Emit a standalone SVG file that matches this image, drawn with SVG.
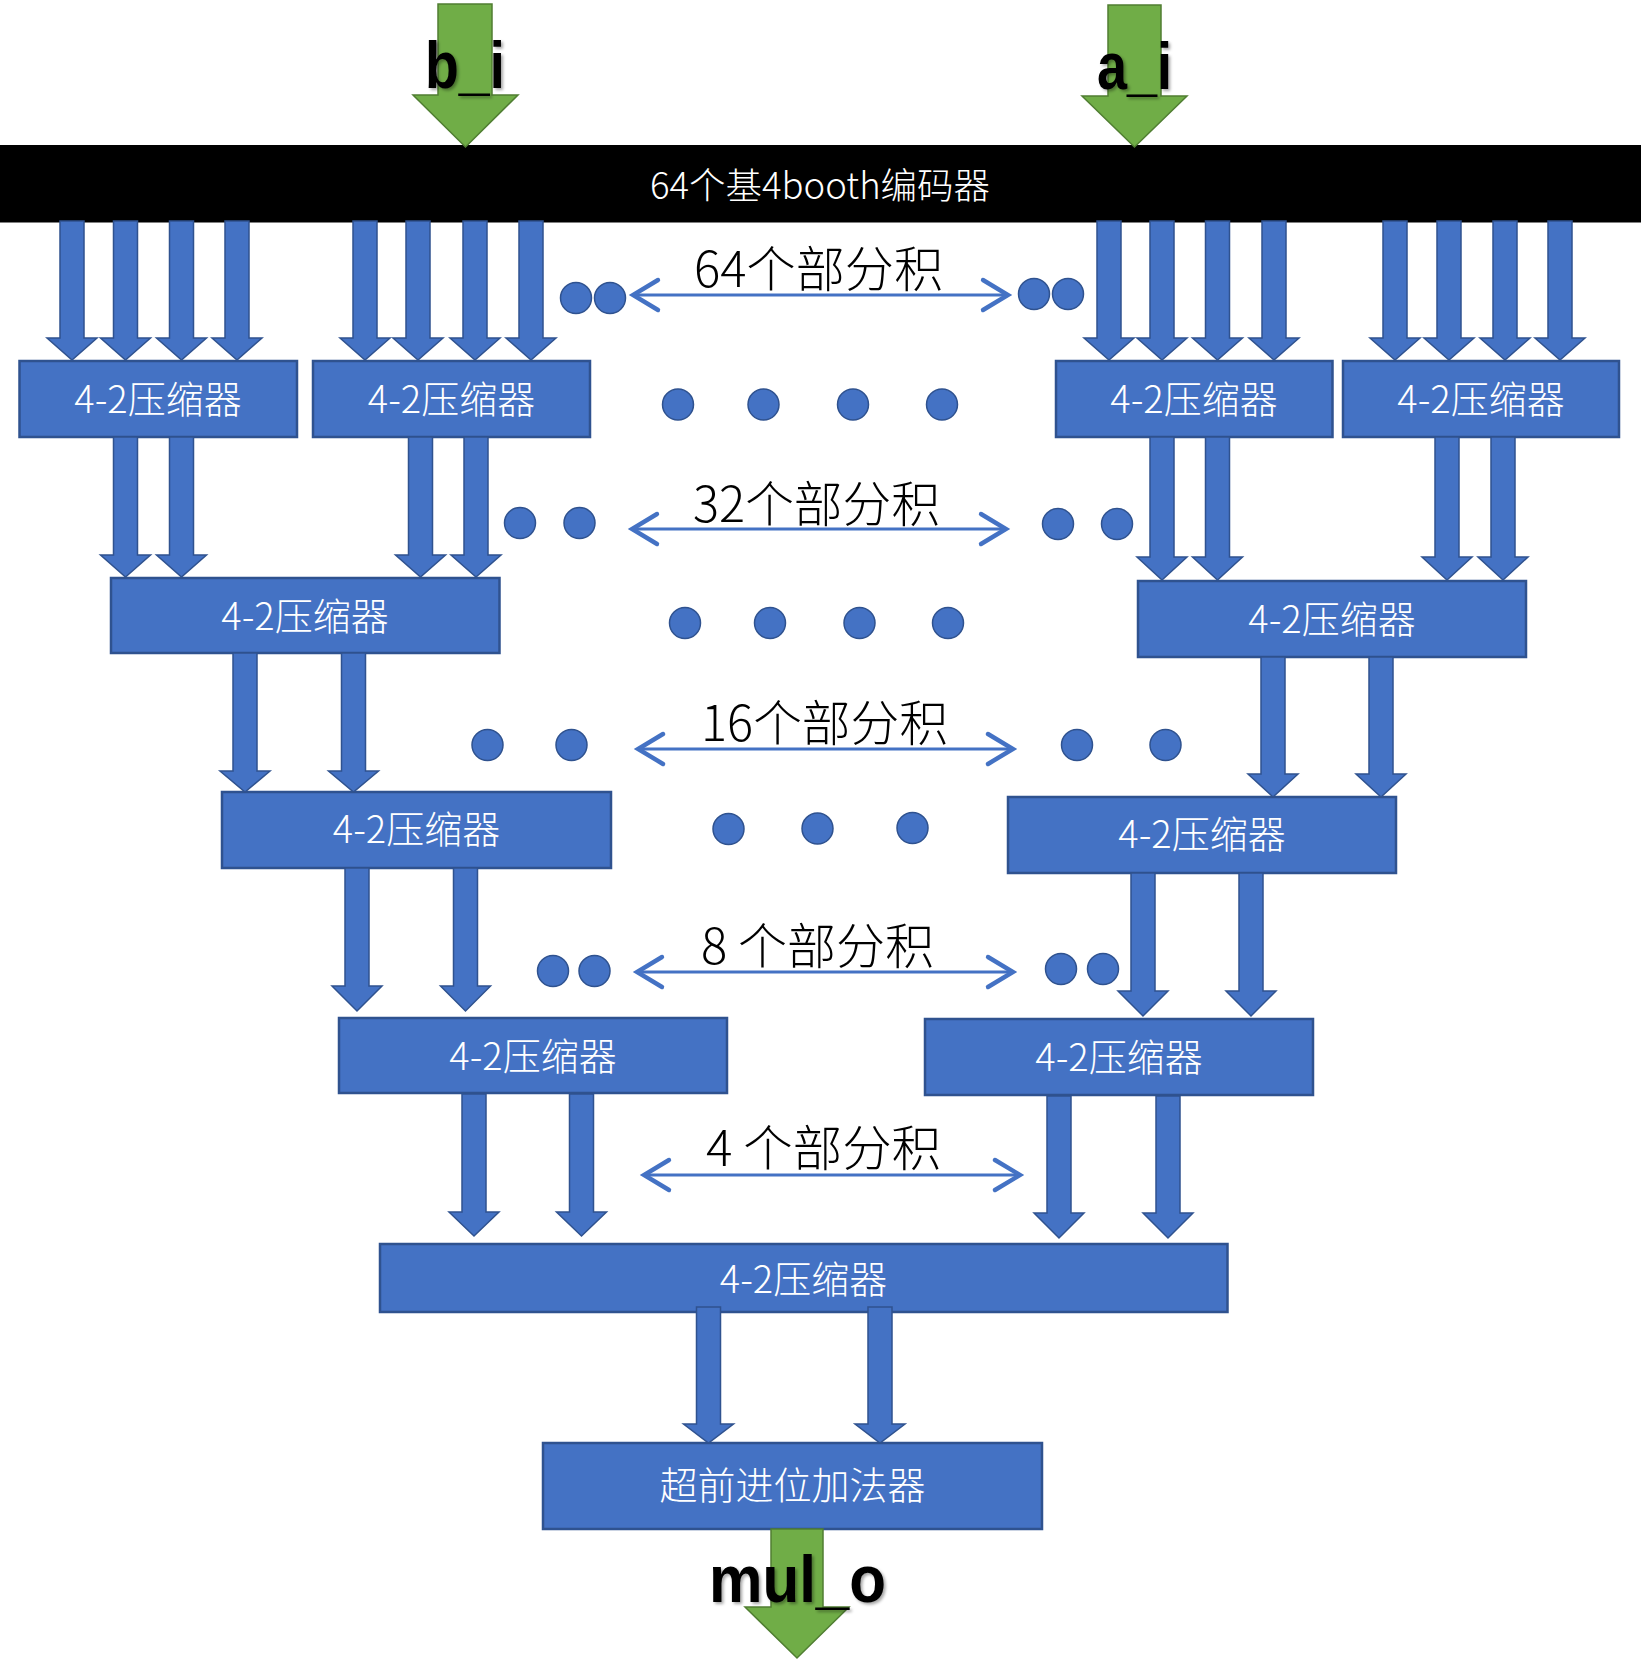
<svg xmlns="http://www.w3.org/2000/svg" width="1641" height="1661" viewBox="0 0 1641 1661">
<style>
.box{fill:#4472C4;stroke:#2F528F;stroke-width:2.5}
.blk{fill:#4472C4;stroke:#2F528F;stroke-width:1.5;stroke-linejoin:miter}
.grn{fill:#70AD47;stroke:#507E32;stroke-width:1.5}
.dot{fill:#4472C4;stroke:#2F528F;stroke-width:1.5}
.dbl{stroke:#4472C4;stroke-width:3.2;fill:none;marker-start:url(#chev);marker-end:url(#chev)}
.bt{font-family:"Noto Sans CJK SC","Microsoft YaHei",sans-serif;font-size:38px;font-weight:300;fill:#fff;text-anchor:middle}
.pl{font-family:"Noto Sans CJK SC","Microsoft YaHei",sans-serif;font-size:49px;font-weight:300;fill:#000}
.io{font-family:"Liberation Sans",Arial,sans-serif;font-weight:bold;font-size:66px;fill:#000;filter:url(#sh)}
</style>
<defs>
<marker id="chev" markerUnits="userSpaceOnUse" markerWidth="40" markerHeight="40" viewBox="-25 -16 30 32" refX="0" refY="0" orient="auto-start-reverse" overflow="visible">
<path d="M-20,-12 L0,0 L-20,12" fill="none" stroke="#4472C4" stroke-width="3.5" stroke-linecap="round" stroke-linejoin="miter"/>
</marker>
<filter id="sh" x="-20%" y="-20%" width="140%" height="140%">
<feDropShadow dx="2" dy="2" stdDeviation="1.5" flood-color="#000" flood-opacity="0.35"/>
</filter>
</defs>
<rect width="1641" height="1661" fill="#fff"/>

<g id="encoder">
<rect x="0" y="145" width="1641" height="77.5" fill="#000"/>
<text x="820" y="199" font-family="Noto Sans CJK SC, Microsoft YaHei, sans-serif" font-size="36.5" font-weight="300" fill="#fff" text-anchor="middle">64个基4booth编码器</text>
</g>

<g id="input_b">
<path class="grn" d="M438 4H492V95H518L465.5 147L413 95H438Z"/>
<text class="io" x="425" y="88" textLength="80" lengthAdjust="spacingAndGlyphs">b_i</text>
</g>
<g id="input_a">
<path class="grn" d="M1108 5H1161V96H1187L1134.5 147L1082 96H1108Z"/>
<text class="io" x="1097" y="89" textLength="75" lengthAdjust="spacingAndGlyphs">a_i</text>
</g>

<g id="c1a"><rect class="box" x="19.5" y="361" width="277.5" height="76"/><text class="bt" x="158" y="413">4-2压缩器</text></g>
<g id="c1b"><rect class="box" x="313" y="361" width="277" height="76"/><text class="bt" x="451.5" y="413">4-2压缩器</text></g>
<g id="c1c"><rect class="box" x="1056" y="361" width="276.5" height="76"/><text class="bt" x="1194" y="413">4-2压缩器</text></g>
<g id="c1d"><rect class="box" x="1343" y="361" width="276" height="76"/><text class="bt" x="1481" y="413">4-2压缩器</text></g>
<g id="c2a"><rect class="box" x="111" y="578" width="388.5" height="75"/><text class="bt" x="305" y="630">4-2压缩器</text></g>
<g id="c2b"><rect class="box" x="1138" y="581" width="388" height="76"/><text class="bt" x="1332" y="633">4-2压缩器</text></g>
<g id="c3a"><rect class="box" x="222" y="792" width="389" height="76"/><text class="bt" x="416.5" y="843">4-2压缩器</text></g>
<g id="c3b"><rect class="box" x="1008" y="797" width="388" height="76"/><text class="bt" x="1202" y="848">4-2压缩器</text></g>
<g id="c4a"><rect class="box" x="339" y="1018" width="388" height="75"/><text class="bt" x="533" y="1070">4-2压缩器</text></g>
<g id="c4b"><rect class="box" x="925" y="1019" width="388" height="76"/><text class="bt" x="1119" y="1071">4-2压缩器</text></g>
<g id="c5"><rect class="box" x="380" y="1244" width="847.5" height="68"/><text class="bt" x="803.5" y="1293">4-2压缩器</text></g>
<g id="adder"><rect class="box" x="543" y="1443" width="499" height="86"/><text class="bt" x="792.5" y="1499">超前进位加法器</text></g>

<g id="output">
<path class="grn" d="M771 1529H823V1607H849L797 1658L745 1607H771Z"/>
<text class="io" x="709" y="1602" textLength="177" lengthAdjust="spacingAndGlyphs">mul_o</text>
</g>

<g id="connectors">
<path class="blk" d="M60 221H84V338H97L72 360L47 338H60Z"/>
<path class="blk" d="M113.5 221H137.5V338H150.5L125.5 360L100.5 338H113.5Z"/>
<path class="blk" d="M169.5 221H193.5V338H206.5L181.5 360L156.5 338H169.5Z"/>
<path class="blk" d="M225 221H249V338H262L237 360L212 338H225Z"/>
<path class="blk" d="M353 221H377V338H390L365 360L340 338H353Z"/>
<path class="blk" d="M406 221H430V338H443L418 360L393 338H406Z"/>
<path class="blk" d="M463 221H487V338H500L475 360L450 338H463Z"/>
<path class="blk" d="M519 221H543V338H556L531 360L506 338H519Z"/>
<path class="blk" d="M1097 221H1121V338H1134L1109 360L1084 338H1097Z"/>
<path class="blk" d="M1150 221H1174V338H1187L1162 360L1137 338H1150Z"/>
<path class="blk" d="M1205.5 221H1229.5V338H1242.5L1217.5 360L1192.5 338H1205.5Z"/>
<path class="blk" d="M1262 221H1286V338H1299L1274 360L1249 338H1262Z"/>
<path class="blk" d="M1383 221H1407V338H1420L1395 360L1370 338H1383Z"/>
<path class="blk" d="M1437 221H1461V338H1474L1449 360L1424 338H1437Z"/>
<path class="blk" d="M1493 221H1517V338H1530L1505 360L1480 338H1493Z"/>
<path class="blk" d="M1548 221H1572V338H1585L1560 360L1535 338H1548Z"/>

<path class="blk" d="M113.5 437H137.5V555H150.5L125.5 577L100.5 555H113.5Z"/>
<path class="blk" d="M169.5 437H193.5V555H206.5L181.5 577L156.5 555H169.5Z"/>
<path class="blk" d="M408.5 437H432.5V555H445.5L420.5 577L395.5 555H408.5Z"/>
<path class="blk" d="M464 437H488V555H501L476 577L451 555H464Z"/>
<path class="blk" d="M1150 437H1174V557H1187L1162 580L1137 557H1150Z"/>
<path class="blk" d="M1205.5 437H1229.5V557H1242.5L1217.5 580L1192.5 557H1205.5Z"/>
<path class="blk" d="M1435 437H1459V557H1472L1447 580L1422 557H1435Z"/>
<path class="blk" d="M1491 437H1515V557H1528L1503 580L1478 557H1491Z"/>

<path class="blk" d="M233 653H257V771H270L245 792L220 771H233Z"/>
<path class="blk" d="M341.5 653H365.5V771H378.5L353.5 792L328.5 771H341.5Z"/>
<path class="blk" d="M1261 657H1285V774H1298L1273 797L1248 774H1261Z"/>
<path class="blk" d="M1369 657H1393V774H1406L1381 797L1356 774H1369Z"/>

<path class="blk" d="M345 868H369V986H382L357 1011L332 986H345Z"/>
<path class="blk" d="M453.5 868H477.5V986H490.5L465.5 1011L440.5 986H453.5Z"/>
<path class="blk" d="M1131 873H1155V991H1168L1143 1016L1118 991H1131Z"/>
<path class="blk" d="M1239 873H1263V991H1276L1251 1016L1226 991H1239Z"/>

<path class="blk" d="M462 1094H486V1212H499L474 1236L449 1212H462Z"/>
<path class="blk" d="M569.5 1094H593.5V1212H606.5L581.5 1236L556.5 1212H569.5Z"/>
<path class="blk" d="M1047 1096H1071V1213H1084L1059 1238L1034 1213H1047Z"/>
<path class="blk" d="M1156 1096H1180V1213H1193L1168 1238L1143 1213H1156Z"/>

<path class="blk" d="M696.5 1307H720.5V1424H733.5L708.5 1443L683.5 1424H696.5Z"/>
<path class="blk" d="M868 1307H892V1424H905L880 1443L855 1424H868Z"/>

<line class="dbl" x1="633" y1="295" x2="1008" y2="295"/>
<line class="dbl" x1="632" y1="529" x2="1006" y2="529"/>
<line class="dbl" x1="638" y1="749" x2="1013" y2="749"/>
<line class="dbl" x1="637" y1="972" x2="1013" y2="972"/>
<line class="dbl" x1="644" y1="1175" x2="1020" y2="1175"/>
</g>

<g id="labels">
<text class="pl" x="694" y="287" textLength="249" lengthAdjust="spacingAndGlyphs">64个部分积</text>
<text class="pl" x="693" y="522" textLength="247" lengthAdjust="spacingAndGlyphs">32个部分积</text>
<text class="pl" x="701" y="741" textLength="247" lengthAdjust="spacingAndGlyphs">16个部分积</text>
<text class="pl" x="701" y="964" textLength="233" lengthAdjust="spacingAndGlyphs">8 个部分积</text>
<text class="pl" x="706" y="1166" textLength="235" lengthAdjust="spacingAndGlyphs">4 个部分积</text>
</g>

<g id="dots">
<circle class="dot" cx="576" cy="298" r="15.5"/>
<circle class="dot" cx="610" cy="298" r="15.5"/>
<circle class="dot" cx="1034" cy="294" r="15.5"/>
<circle class="dot" cx="1068" cy="294" r="15.5"/>
<circle class="dot" cx="678" cy="404.5" r="15.5"/>
<circle class="dot" cx="763.5" cy="404.5" r="15.5"/>
<circle class="dot" cx="853" cy="404.5" r="15.5"/>
<circle class="dot" cx="942" cy="404.5" r="15.5"/>
<circle class="dot" cx="520" cy="523" r="15.5"/>
<circle class="dot" cx="579.5" cy="523" r="15.5"/>
<circle class="dot" cx="1058" cy="524" r="15.5"/>
<circle class="dot" cx="1117" cy="524" r="15.5"/>
<circle class="dot" cx="685" cy="623" r="15.5"/>
<circle class="dot" cx="770" cy="623" r="15.5"/>
<circle class="dot" cx="859.5" cy="623" r="15.5"/>
<circle class="dot" cx="948" cy="623" r="15.5"/>
<circle class="dot" cx="487.5" cy="745" r="15.5"/>
<circle class="dot" cx="571.5" cy="745" r="15.5"/>
<circle class="dot" cx="1077" cy="745" r="15.5"/>
<circle class="dot" cx="1165.5" cy="745" r="15.5"/>
<circle class="dot" cx="728.5" cy="829" r="15.5"/>
<circle class="dot" cx="817.5" cy="828.5" r="15.5"/>
<circle class="dot" cx="912.5" cy="828" r="15.5"/>
<circle class="dot" cx="553" cy="971" r="15.5"/>
<circle class="dot" cx="594.5" cy="971" r="15.5"/>
<circle class="dot" cx="1061" cy="969" r="15.5"/>
<circle class="dot" cx="1103" cy="969" r="15.5"/>
</g>
</svg>
